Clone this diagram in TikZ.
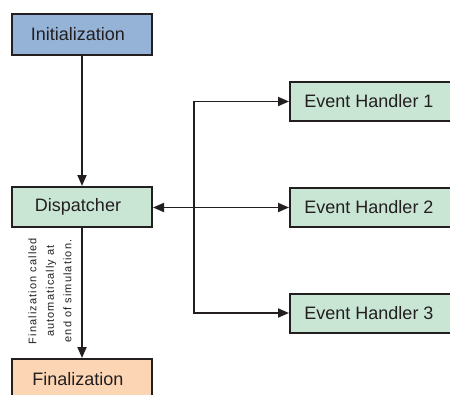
\documentclass[tikz,border=0pt]{standalone}
\usepackage{fontspec}
\setmainfont{Liberation Sans}
\usetikzlibrary{arrows.meta}

\definecolor{initblue}{RGB}{149,179,215}
\definecolor{dispgreen}{RGB}{201,230,212}
\definecolor{finpeach}{RGB}{252,213,180}
\definecolor{ink}{RGB}{35,31,32}

\tikzset{
  box/.style={draw=ink, line width=2pt, rectangle, minimum width=140pt,
    minimum height=40pt, inner sep=0pt, font=\fontsize{18}{20}\selectfont,
    text=ink, execute at end node={\hspace*{8pt}}},
  handler/.style={box, fill=dispgreen, minimum width=166pt, minimum height=39pt},
  conn/.style={draw=ink, line width=1.8pt},
  tip/.style={conn, -{Triangle[length=11pt,width=9pt]}},
  twotip/.style={conn, {Triangle[length=11pt,width=9pt]}-{Triangle[length=11pt,width=9pt]}},
  note/.style={font=\fontsize{11}{17.5}\selectfont\addfontfeature{LetterSpace=10},
    text=ink, align=center, rotate=90, inner sep=0pt}
}

\begin{document}
\begin{tikzpicture}[x=1pt, y=-1pt]
  \useasboundingbox (0,0) rectangle (450,394);
  \clip (0,0) rectangle (450,394);

  % main column
  \node[box, fill=initblue, minimum height=41pt] (init) at (82,34.5) {Initialization};
  \node[box, fill=dispgreen] (disp) at (82,207) {Dispatcher};
  \node[box, fill=finpeach, minimum height=41pt] (fin) at (82,379.5) {Finalization};

  % event handlers on the right
  \node[handler] (eh1) at (373,101.5) {Event Handler 1};
  \node[handler] (eh2) at (373,207.5) {Event Handler 2};
  \node[handler] (eh3) at (373,313) {Event Handler 3};

  % branching point of the dispatch bus
  \coordinate (bus) at (194,207.5);

  % connectors
  \draw[tip] (init) -- (disp);
  \draw[tip] (disp) -- (fin);
  \draw[twotip] (disp.east |- bus) -- (eh2.west);
  \draw[tip] (bus) |- (eh1.west);
  \draw[tip] (bus) |- (eh3.west);

  % note beside the finalization arrow
  \node[note] (finnote) at (50,291)
    {Finalization called\\automatically at\\end of simulation.};
\end{tikzpicture}
\end{document}
